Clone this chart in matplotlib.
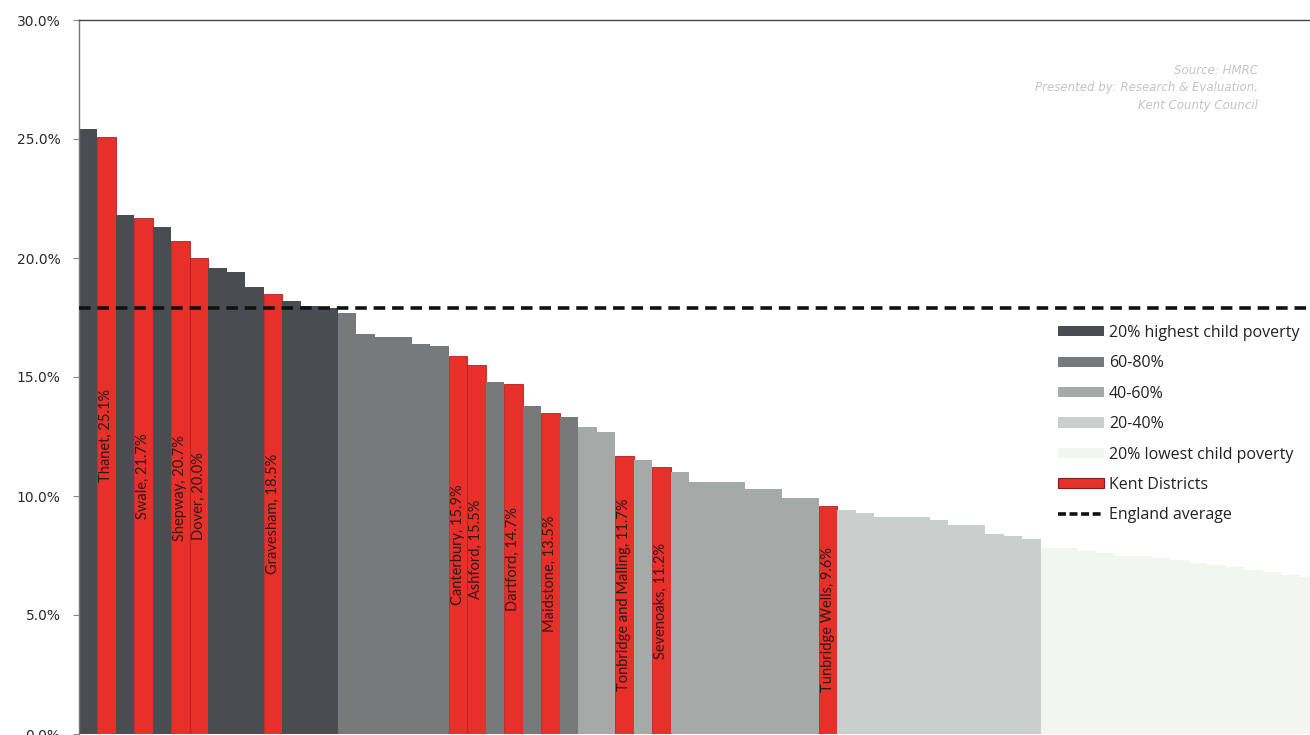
import matplotlib
matplotlib.use("Agg")
import matplotlib.pyplot as plt
from matplotlib.patches import Patch
from matplotlib.lines import Line2D

# Child poverty rate by local authority, sorted high to low
rates = [25.4, 25.1, 21.8, 21.7, 21.3, 20.7, 20.0, 19.6, 19.4, 18.8,
         18.5, 18.2, 18.0, 17.9, 17.7, 16.8, 16.7, 16.7, 16.4, 16.3,
         15.9, 15.5, 14.8, 14.7, 13.8, 13.5, 13.3, 12.9, 12.7, 11.7,
         11.5, 11.2, 11.0, 10.6, 10.6, 10.6, 10.3, 10.3, 9.9, 9.9,
         9.6, 9.4, 9.3, 9.1, 9.1, 9.1, 9.0, 8.8, 8.8, 8.4,
         8.3, 8.2, 7.8, 7.8, 7.7, 7.6, 7.5, 7.5, 7.4, 7.3,
         7.2, 7.1, 7.0, 6.9, 6.8, 6.7, 6.6]

# Quintile band of each authority (0 = 20% highest ... 4 = 20% lowest)
bands = [0] * 14 + [1] * 13 + [2] * 13 + [3] * 12 + [4] * 15

# Kent districts: position in the ranking -> label
kent_idx = [1, 3, 5, 6, 10, 20, 21, 23, 25, 29, 31, 40]
kent_names = ["Thanet", "Swale", "Shepway", "Dover", "Gravesham",
              "Canterbury", "Ashford", "Dartford", "Maidstone",
              "Tonbridge and Malling", "Sevenoaks", "Tunbridge Wells"]

england_avg = 17.9

band_labels = ["20% highest child poverty", "60-80%", "40-60%", "20-40%",
               "20% lowest child poverty"]
band_colors = ["#4b4b52", "#77797b", "#a5a9a7", "#c8cfcd", "#f3f6f0"]
kent_color = "#e8302a"

W, H = 1310, 735
fig = plt.figure(figsize=(W / 100, H / 100), dpi=100)
x0, x1 = 78.5, 1318
y0, y1 = 734, 20
ax = fig.add_axes([x0 / W, (H - y0) / H, (x1 - x0) / W, (y0 - y1) / H])

n = len(rates)
colors = [band_colors[b] for b in bands]
for i in kent_idx:
    colors[i] = kent_color
edges = ["#b02020" if i in kent_idx else "none" for i in range(n)]

ax.bar(range(n), rates, width=1.0, color=colors, edgecolor=edges,
       linewidth=0.6, zorder=2)

for i, name in zip(kent_idx, kent_names):
    ax.text(i, rates[i] / 2, f"{name}, {rates[i]:.1f}%", rotation=90,
            ha="center", va="center", fontsize=10.5, family="Lato",
            color="#2a1a1a", zorder=4)

ax.axhline(england_avg, color="#111111", linewidth=2.6,
           linestyle=(0, (3.2, 1.9)), zorder=3)

ax.set_xlim(-0.5, n - 0.5)
ax.set_ylim(0, 30)
ax.set_yticks([0, 5, 10, 15, 20, 25, 30])
ax.set_yticklabels([f"{v:.1f}%" for v in [0, 5, 10, 15, 20, 25, 30]])
ax.tick_params(axis="y", labelsize=10, labelcolor="#2a2a2a", length=4,
               color="#888888", pad=9)
ax.set_xticks([])
for side in ["bottom", "right"]:
    ax.spines[side].set_visible(False)
ax.spines["left"].set_color("#777777")
ax.spines["top"].set_color("#444444")
ax.spines["left"].set_linewidth(1.0)
ax.spines["top"].set_linewidth(1.0)

handles = [Patch(facecolor=c, edgecolor="none") for c in band_colors]
handles.append(Patch(facecolor=kent_color, edgecolor="#8a1a1a", linewidth=0.8))
handles.append(Line2D([0], [0], color="#111111", linewidth=2.6,
                      linestyle=(0, (2.2, 1.0))))
labels = band_labels + ["Kent Districts", "England average"]
fig.legend(handles, labels, loc="upper left",
           bbox_to_anchor=(1058 / W, (H - 325) / H), frameon=False,
           handlelength=2.9, handleheight=0.6,
           handletextpad=0.3, labelspacing=0.9, borderpad=0,
           borderaxespad=0, labelcolor="#222222",
           prop={"family": "Open Sans", "size": 11.5})

fig.text(1258 / W, (H - 88) / H,
         "Source: HMRC\nPresented by: Research & Evaluation,\nKent County Council",
         ha="right", va="center", fontsize=8.5, style="italic",
         color="#c4c4c4", linespacing=1.4)

fig.savefig("out.png", dpi=100)
